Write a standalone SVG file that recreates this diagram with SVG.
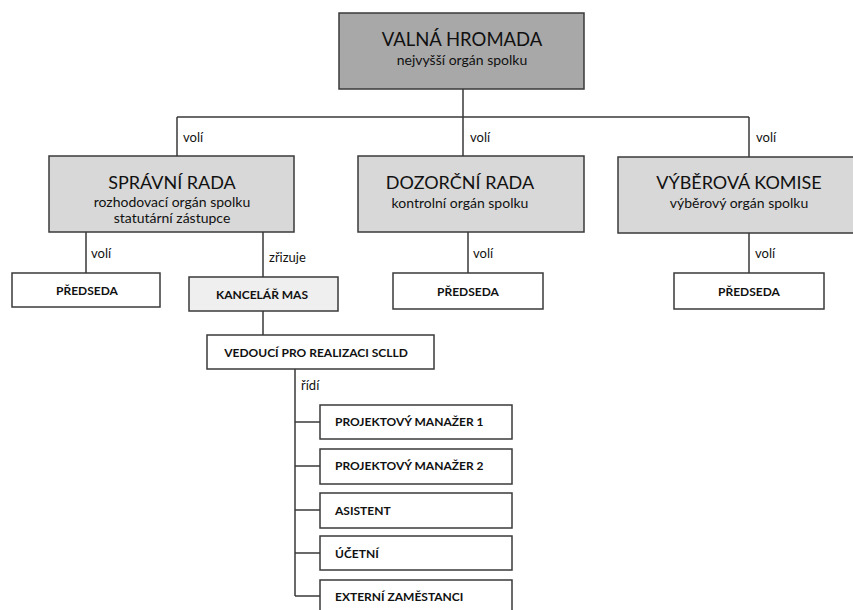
<svg xmlns="http://www.w3.org/2000/svg" width="853" height="610" viewBox="0 0 853 610">
<style>
.box{stroke:#3a3a3a;stroke-width:1.5}
.dark{fill:#a8a8a8}
.mid{fill:#d8d8d8}
.light{fill:#efefef}
.white{fill:#ffffff}
.ln{stroke:#3a3a3a;stroke-width:1.5;fill:none}
text{font-family:Lato,"Liberation Sans",sans-serif;fill:#111111}
.t1{font-size:18.5px}
.t2{font-size:18px}
.sub{font-size:14px}
.lbl{font-size:13px}
.sm{font-size:12px;font-weight:bold}
.c{text-anchor:middle}
</style>
<rect x="0" y="0" width="853" height="610" fill="#ffffff"/>
<g id="connectors">
<path class="ln" d="M463 89V117M177 117H749M177 117V156M463 117V156M749 117V157"/>
<path class="ln" d="M86 232V273M263 232V277M263 311V335M468 232V273M749 233V273"/>
<path class="ln" d="M295 369V596M295 422H320M295 466H320M295 510H320M295 553H320M295 596H320"/>
<text class="lbl" x="183" y="142">volí</text>
<text class="lbl" x="470" y="142">volí</text>
<text class="lbl" x="756" y="142">volí</text>
<text class="lbl" x="91" y="258">volí</text>
<text class="lbl" x="269" y="262">zřizuje</text>
<text class="lbl" x="473" y="258">volí</text>
<text class="lbl" x="755" y="258">volí</text>
<text class="lbl" x="301" y="390">řídí</text>
</g>
<g id="valna-hromada">
<rect class="box dark" x="339" y="13" width="245" height="76"/>
<text class="t1 c" x="462" y="46">VALNÁ HROMADA</text>
<text class="sub c" x="462" y="65">nejvyšší orgán spolku</text>
</g>
<g id="spravni-rada">
<rect class="box mid" x="49" y="156" width="245" height="76"/>
<text class="t2 c" x="172" y="189">SPRÁVNÍ RADA</text>
<text class="sub c" x="172" y="207">rozhodovací orgán spolku</text>
<text class="sub c" x="172" y="223">statutární zástupce</text>
</g>
<g id="dozorci-rada">
<rect class="box mid" x="358" y="156" width="226" height="76"/>
<text class="t2 c" x="460" y="189">DOZORČNÍ RADA</text>
<text class="sub c" x="460" y="208">kontrolní orgán spolku</text>
</g>
<g id="vyberova-komise">
<rect class="box mid" x="618" y="157" width="240" height="76"/>
<text class="t2 c" x="739" y="189">VÝBĚROVÁ KOMISE</text>
<text class="sub c" x="739" y="208">výběrový orgán spolku</text>
</g>
<g id="predseda-sr">
<rect class="box white" x="12" y="273" width="148" height="34"/>
<text class="sm c" x="87" y="295">PŘEDSEDA</text>
</g>
<g id="kancelar">
<rect class="box light" x="189" y="277" width="149" height="34"/>
<text class="sm c" x="262" y="299">KANCELÁŘ MAS</text>
</g>
<g id="predseda-dr">
<rect class="box white" x="393" y="273" width="150" height="36"/>
<text class="sm c" x="468" y="296">PŘEDSEDA</text>
</g>
<g id="predseda-vk">
<rect class="box white" x="674" y="273" width="150" height="36"/>
<text class="sm c" x="749" y="296">PŘEDSEDA</text>
</g>
<g id="vedouci">
<rect class="box white" x="207" y="335" width="227" height="34"/>
<text class="sm c" x="316" y="357">VEDOUCÍ PRO REALIZACI SCLLD</text>
</g>
<g id="pm1">
<rect class="box white" x="320" y="405" width="192" height="34"/>
<text class="sm" x="335" y="426">PROJEKTOVÝ MANAŽER 1</text>
</g>
<g id="pm2">
<rect class="box white" x="320" y="449" width="192" height="35"/>
<text class="sm" x="335" y="470">PROJEKTOVÝ MANAŽER 2</text>
</g>
<g id="asistent">
<rect class="box white" x="320" y="493" width="192" height="35"/>
<text class="sm" x="335" y="515">ASISTENT</text>
</g>
<g id="ucetni">
<rect class="box white" x="320" y="536" width="192" height="34"/>
<text class="sm" x="335" y="558">ÚČETNÍ</text>
</g>
<g id="externi">
<rect class="box white" x="320" y="580" width="192" height="40"/>
<text class="sm" x="335" y="601">EXTERNÍ ZAMĚSTANCI</text>
</g>
</svg>
